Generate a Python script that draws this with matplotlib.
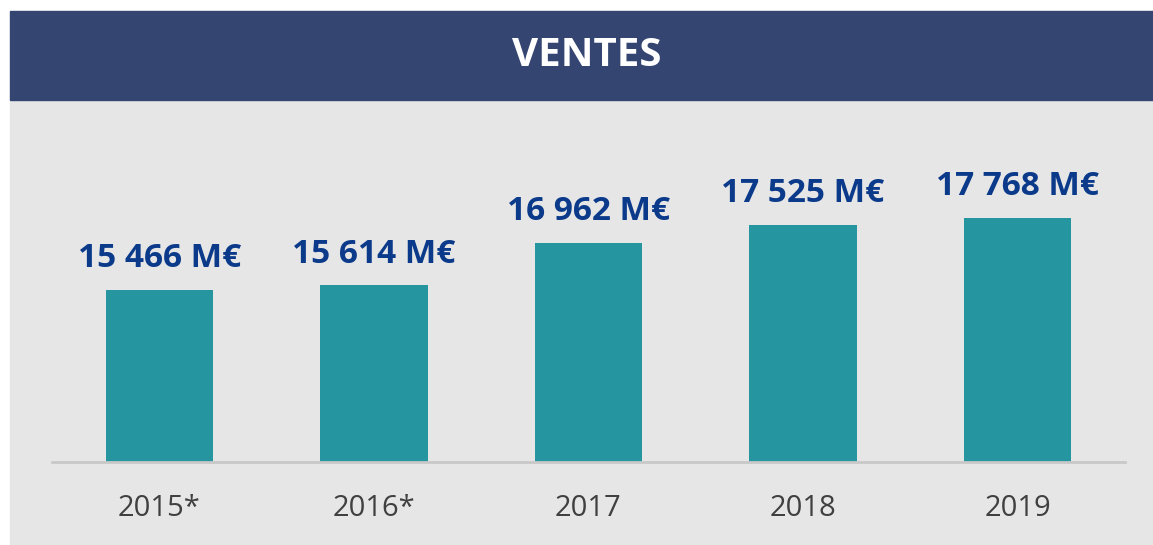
import matplotlib
matplotlib.use("Agg")
import matplotlib.pyplot as plt
from matplotlib.patches import Rectangle

annees = ["2015*", "2016*", "2017", "2018", "2019"]
ventes = [15466, 15614, 16962, 17525, 17768]
etiquettes = ["15 466 M€", "15 614 M€", "16 962 M€", "17 525 M€", "17 768 M€"]

W, H = 1153, 545
fig = plt.figure(figsize=(W / 100, H / 100), dpi=100)
fig.patch.set_facecolor("white")

# fond gris et bandeau titre
fig.patches.append(Rectangle((10 / W, 0), 1 - 10 / W, (H - 100) / H,
                             transform=fig.transFigure, color="#e6e6e6", zorder=-2))
fig.patches.append(Rectangle((10 / W, (H - 100) / H), 1 - 10 / W, 89 / H,
                             transform=fig.transFigure, color="#334570", zorder=-2))
fig.text(587 / W, (H - 56) / H, "VENTES", color="white", fontsize=29,
         fontweight="bold", family="Open Sans", ha="center", va="center")

ax = fig.add_axes([52 / W, 83 / H, (1125 - 52) / W, (462 - 100) / H])
ax.set_zorder(1)
ax.patch.set_alpha(0)
ax.bar(range(len(annees)), ventes, width=0.5, color="#2595a0")
ax.set_xlim(-0.5, len(annees) - 0.5)
ax.set_ylim(10000, 10000 + 362 * 31.8)

for i, v in enumerate(ventes):
    ax.annotate(etiquettes[i], (i, v), xytext=(0, 16.5), textcoords="offset points",
                ha="center", va="baseline", fontsize=24, fontweight="bold",
                family="Open Sans", color="#0b3a8a")

ax.set_xticks(range(len(annees)))
ax.set_xticklabels(annees, fontsize=21, family="Open Sans", color="#404040")
ax.tick_params(axis="x", length=0, pad=23)
ax.set_yticks([])
for s in ["top", "right", "left"]:
    ax.spines[s].set_visible(False)
ax.spines["bottom"].set_color("#c8c8c8")
ax.spines["bottom"].set_linewidth(2)

fig.savefig("out.png", dpi=100, facecolor=fig.get_facecolor())
